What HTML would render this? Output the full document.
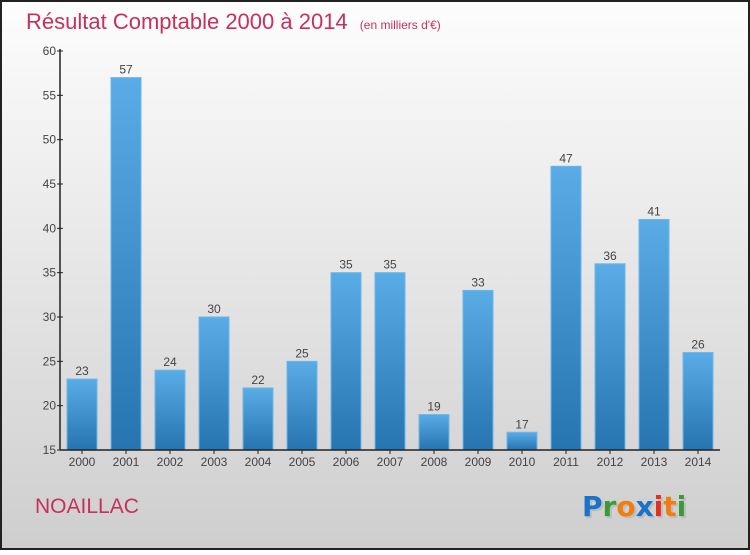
<!DOCTYPE html>
<html><head><meta charset="utf-8"><style>
body{margin:0;width:750px;height:550px;overflow:hidden;font-family:"Liberation Sans",sans-serif}
</style></head><body>
<svg width="750" height="550">
<defs>
<linearGradient id="bg" x1="0" y1="0" x2="0" y2="1"><stop offset="0" stop-color="#fdfdfd"/><stop offset="1" stop-color="#cecece"/></linearGradient>
<linearGradient id="bar" x1="0" y1="0" x2="0" y2="1"><stop offset="0" stop-color="#5aace6"/><stop offset="1" stop-color="#2674b0"/></linearGradient>
</defs>
<rect x="1" y="1" width="748" height="548" fill="url(#bg)" stroke="#222" stroke-width="2"/>
<text x="26" y="29" font-size="22" fill="#c8305a">Résultat Comptable 2000 à 2014 <tspan font-size="12" dx="6">(en milliers d'€)</tspan></text>
<g id="plot"></g>
<text x="35" y="513" font-size="21" fill="#c8305a">NOAILLAC</text>
<g font-size="28" font-weight="bold" font-family="'DejaVu Sans',sans-serif">
<text x="584" y="518" fill="#aaa" opacity="0.5">Proxiti</text>
<text x="582" y="516"><tspan fill="#1a73c8">P</tspan><tspan fill="#3a9a3a">r</tspan><tspan fill="#f07d10">o</tspan><tspan fill="#1a73c8">x</tspan><tspan fill="#e03020">i</tspan><tspan fill="#f07d10">t</tspan><tspan fill="#3a9a3a">i</tspan></text>
</g>
</svg>
<script>
const years=["2000","2001","2002","2003","2004","2005","2006","2007","2008","2009","2010","2011","2012","2013","2014"];
const values=[23,57,24,30,22,25,35,35,19,33,17,47,36,41,26];
const yTicks=[15,20,25,30,35,40,45,50,55,60];
const ns="http://www.w3.org/2000/svg";
const g=document.getElementById('plot');
const x0=60,band=44,yMin=15,yMax=60,yTop=51,yBot=450;
const yS=v=>yBot-(v-yMin)/(yMax-yMin)*(yBot-yTop);
const xS=i=>x0+i*band+band/2;
function mk(t,a,txt){const e=document.createElementNS(ns,t);for(const k in a)e.setAttribute(k,a[k]);if(txt!==undefined)e.textContent=txt;g.appendChild(e);return e;}
values.forEach((v,i)=>{
 const b=mk('rect',{x:xS(i)-15,y:yS(v),width:30,height:yBot-yS(v),fill:'url(#bar)',stroke:'#6ab8ee','stroke-width':1});
 
 
 const l=mk('text',{x:xS(i),y:yS(v)-4,'text-anchor':'middle','font-size':12,fill:'#444'},v);
 
 
 const t=mk('text',{x:xS(i),y:yBot+16,'text-anchor':'middle','font-size':12,fill:'#444'},years[i]);
 
 
 mk('line',{x1:xS(i),x2:xS(i),y1:yBot,y2:yBot+4,stroke:'#222'});
});
yTicks.forEach(v=>{
 mk('line',{x1:x0-3,x2:x0+3,y1:yS(v),y2:yS(v),stroke:'#222'});
 const t=mk('text',{x:x0-4,y:yS(v)+4,'text-anchor':'end','font-size':12,fill:'#444'},v);
 
 
});
const ya=mk('line',{x1:x0,x2:x0,y1:yTop-2,y2:yBot,stroke:'#222','stroke-width':1.5});


const xa=mk('line',{x1:x0,x2:x0+band*years.length,y1:yBot,y2:yBot,stroke:'#222','stroke-width':1.5});


</script>
</body></html>
